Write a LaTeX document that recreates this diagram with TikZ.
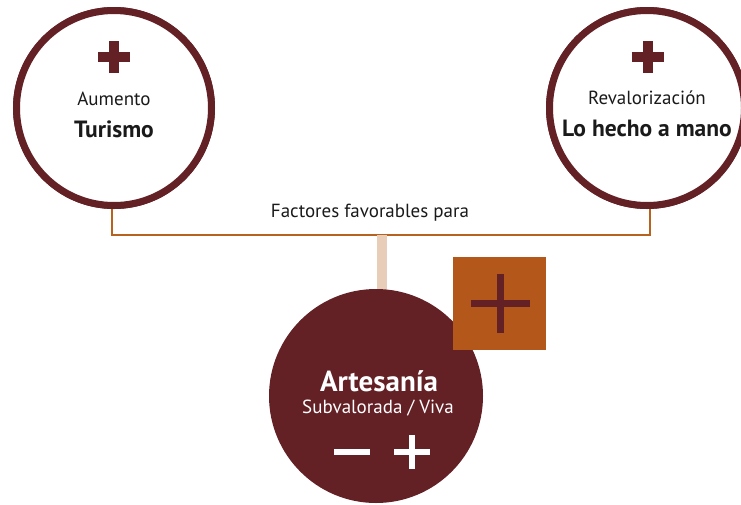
\documentclass[tikz,border=0pt]{standalone}
\usepackage{fontspec}
\setmainfont{PT Sans}
\definecolor{maroon}{HTML}{632126}
\definecolor{rust}{HTML}{B3581A}
\definecolor{bracketc}{HTML}{B8621F}
\definecolor{tan}{HTML}{E8CEB9}
\definecolor{ink}{HTML}{1A1A1A}
\tikzset{
  ring/.style={circle, draw=maroon, line width=7pt, fill=white, minimum size=195pt, inner sep=0pt},
  core/.style={circle, fill=maroon, minimum size=214pt, inner sep=0pt},
  sq/.style={fill=rust, minimum size=93pt, inner sep=0pt},
  bracketline/.style={draw=bracketc, line width=2pt},
  stem/.style={draw=tan, line width=10pt},
  smalltxt/.style={font=\fontsize{19}{22}\selectfont, text=ink, inner sep=0pt},
  bigtxt/.style={font=\fontsize{23.5}{28}\selectfont\bfseries, text=ink, inner sep=0pt},
}
\begin{document}
\begin{tikzpicture}[x=1pt,y=-1pt]
\useasboundingbox (0,0) rectangle (741,504);
\coordinate (B) at (381.5,234.6);
\coordinate (S) at (381.5,320);
\node[ring] (L) at (114,108) {};
\node[ring] (R) at (647,108) {};
\draw[bracketline] ([xshift=-2pt]L.south) |- (B) -| ([xshift=3pt]R.south);
\draw[stem] (B) -- (S);
\node[core] (C) at (376,396) {};
\node[sq] (Q) at (499.5,303) {};
\node[ring] (L2) at (114,108) {};
\node[ring] (R2) at (647,108) {};
% plus marks
\draw[draw=maroon, line width=10pt] (98,57) -- (130,57) (114,41) -- (114,73);
\draw[draw=maroon, line width=10pt] (631.7,57) -- (663.7,57) (647.7,41) -- (647.7,73);
\draw[draw=maroon, line width=7pt] (471,303) -- (530,303) (500.5,274) -- (500.5,333);
\draw[draw=white, line width=6pt] (334,452) -- (370,452) (394,452) -- (430,452) (412,435) -- (412,469);
% texts
\node[smalltxt] (t1) at (114,99) {Aumento};
\node[bigtxt] (t2) at (114,129) {Turismo};
\node[smalltxt] (t3) at (647,98) {Revalorización};
\node[bigtxt] (t4) at (647,128) {Lo hecho a mano};
\node[smalltxt] (t5) at (370,213) {Factores favorables para};
\node[font=\fontsize{29}{34}\selectfont\bfseries, text=white, inner sep=0pt] (t6) at (379,381) {Artesanía};
\node[font=\fontsize{19}{22}\selectfont, text=white, inner sep=0pt] (t7) at (378,408) {Subvalorada / Viva};
\end{tikzpicture}
\end{document}
